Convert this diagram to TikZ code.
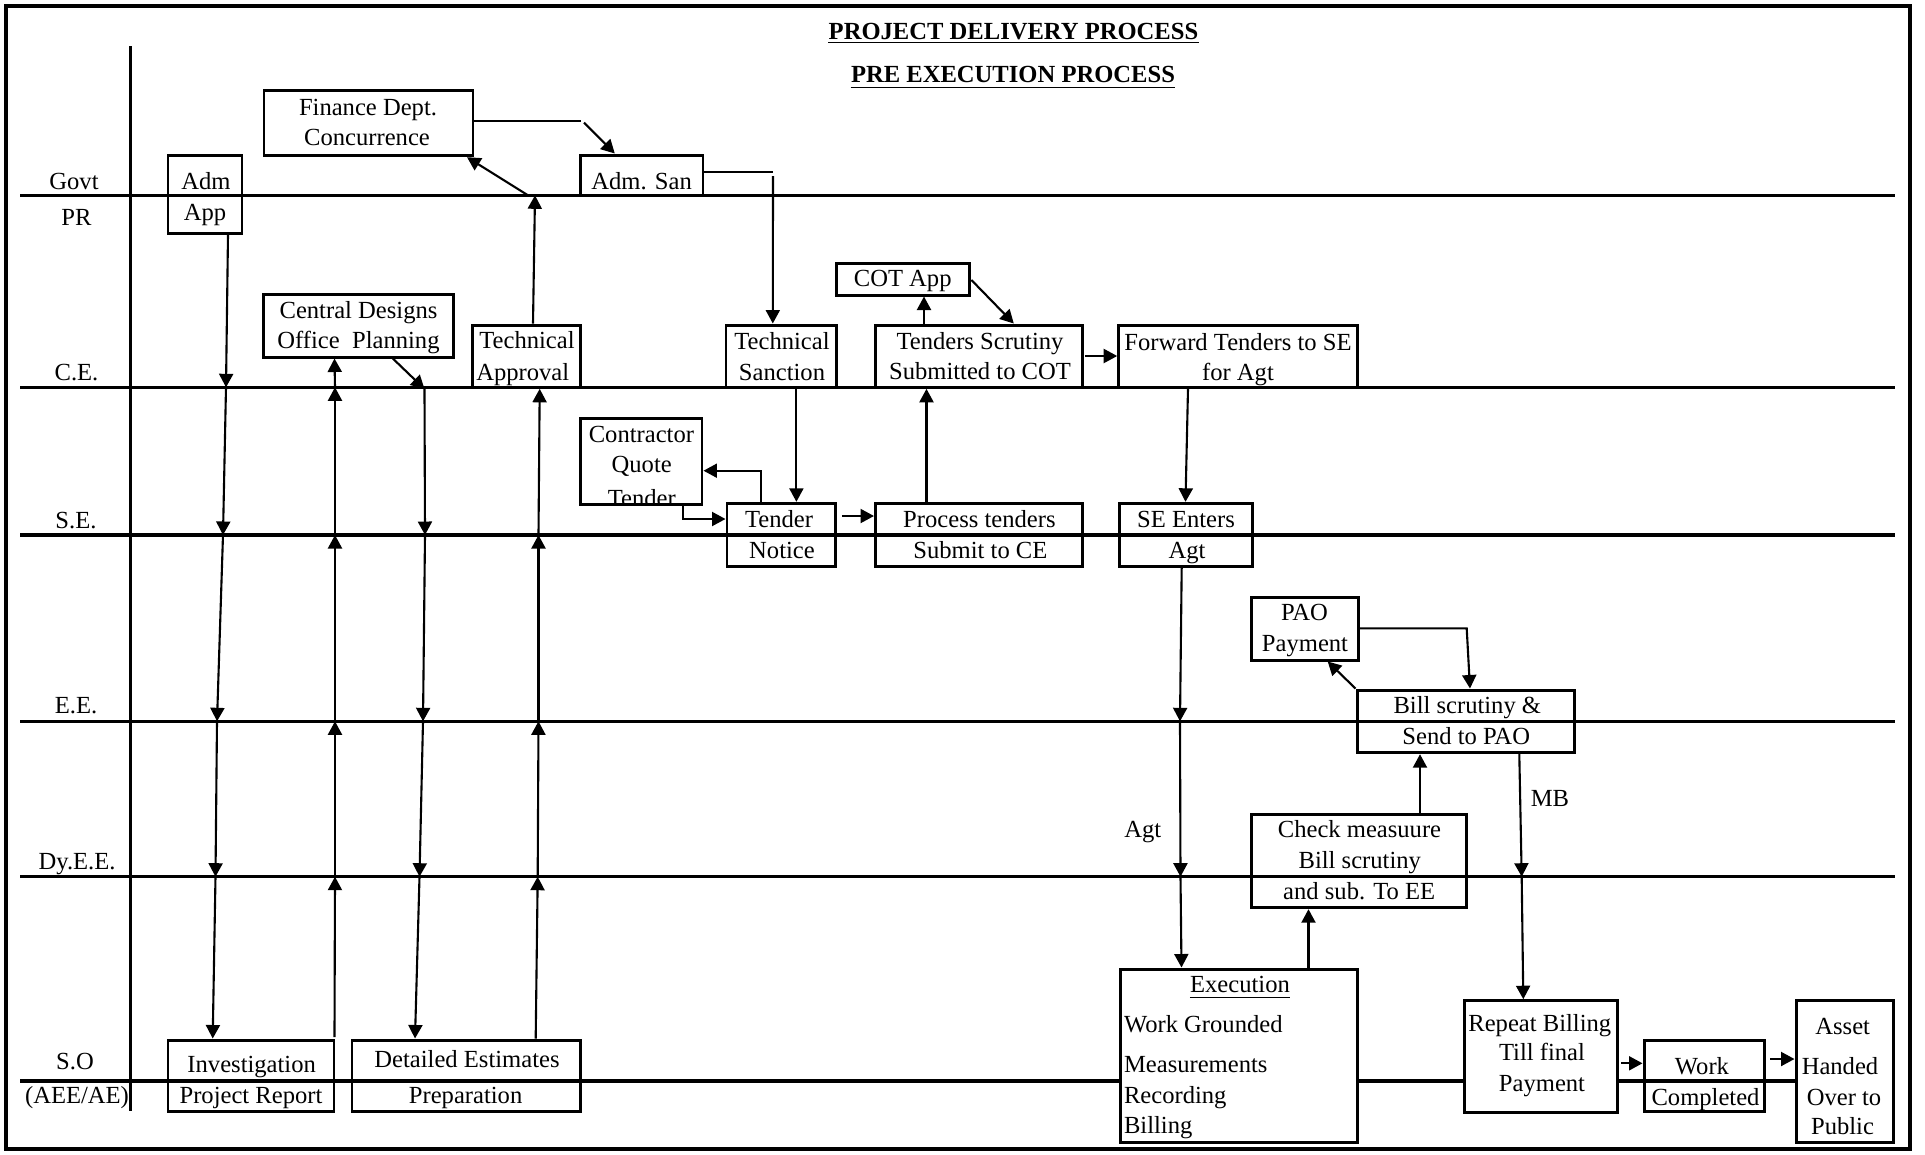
\documentclass[tikz,border=0pt]{standalone}
\usepackage{fontspec}
\setmainfont{Liberation Serif}
\usetikzlibrary{arrows.meta,fit}
\newcommand\fs{\fontsize{14pt}{17pt}\selectfont}
\newcommand\tline[3]{\node[txt] (#1) at (#2) {#3};}
\newcommand\tlinel[3]{\node[txt,anchor=base west] (#1) at (#2) {#3};}
\begin{document}
\begin{tikzpicture}[x=0.02cm,y=-0.02cm,
  lane/.style={line width=1.75pt},
  box/.style={draw,line width=1.7pt,inner sep=0pt,rectangle},
  wbox/.style={box,fill=white},
  txt/.style={inner sep=0pt,font=\fs,anchor=base},
  ttl/.style={inner sep=0pt,font=\fs\bfseries,anchor=base},
  arr/.style={line width=1.2pt,-{Triangle[length=0.27cm,width=0.28cm]}},
  con/.style={line width=1.2pt},
  ul/.style={line width=0.9pt}]
\fill[white] (0,0) rectangle (1925,1154);
\useasboundingbox (0,0) rectangle (1925,1154);
\draw[line width=2pt] (6,6) rectangle (1910,1149);

% titles
\node[ttl] (title1) at (1013.5,39.3) {PROJECT DELIVERY PROCESS};
\node[ttl] (title2) at (1013,82.7) {PRE EXECUTION PROCESS};
\draw[ul] ([yshift=-0.068cm]title1.base west) -- ([yshift=-0.068cm]title1.base east);
\draw[ul] ([yshift=-0.092cm]title2.base west) -- ([yshift=-0.092cm]title2.base east);

% lanes
\draw[lane] (130.6,46) -- (130.6,1110.7);
\foreach \yy in {195.3,387.3,535,721.3,876.7} \draw[lane] (20.4,\yy) -- (1895,\yy);
\draw[lane] (20.4,1081) -- (1890,1081);

% lane labels
\tline{lgovt}{74,189.3}{Govt}
\tline{lpr}{76.5,225}{PR}
\tline{lce}{76.5,380}{C.E.}
\tline{lse}{76,528.3}{S.E.}
\tline{lee}{76,713.3}{E.E.}
\tline{ldyee}{77,869.3}{Dy.E.E.}
\tline{lso}{75,1069.3}{S.O}
\tline{laee}{77,1103.3}{(AEE/AE)}

% boxes
\node[box,fit={(168,155) (242,233)}] (admapp) {};
\node[box,fit={(264,90) (473,155.7)}] (finance) {};
\node[box,fit={(580.6,155) (703,195.3)}] (admsan) {};
\node[box,fit={(263.8,294) (453.6,357)}] (cdo) {};
\node[box,fit={(472.4,325) (580.6,387.3)}] (techapp) {};
\node[box,fit={(726,325) (836,387.3)}] (techsan) {};
\node[box,fit={(836,263.3) (969,295)}] (cotapp) {};
\node[box,fit={(875,325) (1082.6,387.3)}] (tscrut) {};
\node[box,fit={(1118.7,325) (1357.6,387.3)}] (forward) {};
\node[box,fit={(580.6,418.3) (702,504)}] (contractor) {};
\node[box,fit={(727,503.3) (835.7,566)}] (tnotice) {};
\node[box,fit={(875.5,503.3) (1082,566)}] (process) {};
\node[box,fit={(1119,503.3) (1252,566)}] (seenters) {};
\node[box,fit={(1251,597.3) (1358.3,660)}] (pao) {};
\node[box,fit={(1357,690) (1574.3,752.7)}] (bill) {};
\node[box,fit={(1251,814.3) (1466,907.7)}] (check) {};
\node[wbox,fit={(1120,969) (1357.8,1142.3)}] (execution) {};
\node[wbox,fit={(1464.3,1000.7) (1617.3,1112.3)}] (repeat) {};
\node[box,fit={(1644,1040) (1764,1111.5)}] (work) {};
\node[wbox,fit={(1796,1000) (1893,1142)}] (asset) {};
\node[box,fit={(168,1040) (334,1111.7)}] (invest) {};
\node[box,fit={(352,1040) (580.4,1111.7)}] (detailed) {};

% box texts
\tline{aaA}{206,189.3}{Adm}
\tline{aaB}{205,220}{App}
\tline{fiA}{368,115}{Finance Dept.}
\tline{fiB}{367,145}{Concurrence}
\tline{asA}{641.6,189.3}{Adm. San}
\tline{cdA}{358.5,318.3}{Central Designs}
\tline{cdB}{358.5,348.3}{Office\ \ Planning}
\tline{taA}{527,348.3}{Technical}
\tline{taB}{522.7,380}{Approval}
\tline{tsA}{782,349.3}{Technical}
\tline{tsB}{782,380}{Sanction}
\tline{coA}{902.7,286.7}{COT App}
\tline{scA}{980,349.3}{Tenders Scrutiny}
\tline{scB}{980,379.3}{Submitted to COT}
\tline{fwA}{1238,350}{Forward Tenders to SE}
\tline{fwB}{1238,380}{for Agt}
\begin{scope}
\clip (contractor.south west) rectangle (contractor.north east);
\tline{ctA}{641.4,442.7}{Contractor}
\tline{ctB}{641.7,472.7}{Quote}
\tline{ctC}{641.8,506}{Tender}
\end{scope}
\tline{tnA}{779,527.7}{Tender}
\tline{tnB}{782,558.3}{Notice}
\tline{prA}{979.4,527.7}{Process tenders}
\tline{prB}{980.4,558.3}{Submit to CE}
\tline{seA}{1186,527.7}{SE Enters}
\tline{seB}{1187,558.3}{Agt}
\tline{paA}{1304.5,620.7}{PAO}
\tline{paB}{1305,651.7}{Payment}
\tline{biA}{1467.3,713.3}{Bill scrutiny \&}
\tline{biB}{1466.2,744.3}{Send to PAO}
\tline{chA}{1359.5,837.3}{Check measuure}
\tline{chB}{1359.8,868.3}{Bill scrutiny}
\tline{chC}{1359.2,899.3}{and sub. To EE}
\tline{exA}{1240,992.7}{Execution}
\draw[line width=0.6pt] ([yshift=-0.09cm]exA.base west) -- ([yshift=-0.09cm]exA.base east);
\tlinel{exB}{1123.7,1032.3}{Work Grounded}
\tlinel{exC}{1123.7,1072.7}{Measurements}
\tlinel{exD}{1123.7,1103.3}{Recording}
\tlinel{exE}{1123.7,1133.3}{Billing}
\tline{rpA}{1539.8,1031.7}{Repeat Billing}
\tline{rpB}{1542,1060}{Till final}
\tline{rpC}{1542,1091.7}{Payment}
\tline{wkA}{1702,1074.3}{Work}
\tline{wkB}{1705.5,1105}{Completed}
\tline{atA}{1842.7,1034}{Asset}
\tline{atB}{1840,1074.3}{Handed}
\tline{atC}{1844,1105}{Over to}
\tline{atD}{1842.5,1134}{Public}
\tline{ivA}{251.7,1072.7}{Investigation}
\tline{ivB}{251,1103.3}{Project Report}
\tline{deA}{467,1067.3}{Detailed Estimates}
\tline{deB}{465.6,1103.3}{Preparation}
\tline{lagt}{1142.7,837.3}{Agt}
\tline{lmb}{1550,806.7}{MB}

% connectors
\coordinate (A1) at (226,387.3);
\coordinate (A2) at (223,535);
\coordinate (A3) at (217,721.3);
\coordinate (A4) at (215.5,876.7);
\draw[arr] (228,0 |- admapp.south) -- (A1);
\draw[arr] (A1) -- (A2);
\draw[arr] (A2) -- (A3);
\draw[arr] (A3) -- (A4);
\draw[arr] (A4) -- (212.7,0 |- invest.north);

\coordinate (B0) at (334.5,1037);
\coordinate (B1) at (335,876.7);
\coordinate (B2) at (335,721.3);
\coordinate (B3) at (335,535);
\coordinate (B4) at (335,387.3);
\draw[arr] (B0) -- (B1);
\draw[arr] (B1) -- (B2);
\draw[arr] (B2) -- (B3);
\draw[arr] (B3) -- (B4);
\draw[arr] (B4) -- (334.5,0 |- cdo.south);

\coordinate (C0) at (424.5,389);
\coordinate (C1) at (425,535);
\coordinate (C2) at (423,721.3);
\coordinate (C3) at (419.5,876.7);
\draw[arr] (392.8,0 |- cdo.south) -- (C0);
\draw[arr] (C0) -- (C1);
\draw[arr] (C1) -- (C2);
\draw[arr] (C2) -- (C3);
\draw[arr] (C3) -- (415,0 |- detailed.north);

\coordinate (D1) at (537.7,876.7);
\coordinate (D2) at (538.5,721.3);
\coordinate (D3) at (538.5,535);
\draw[arr] (535.7,0 |- detailed.north) -- (D1);
\draw[arr] (D1) -- (D2);
\draw[arr] (D2) -- (D3);
\draw[arr] (D3) -- (539.7,0 |- techapp.south);

\coordinate (E1) at (535,195.3);
\coordinate (E2) at (528,195.3);
\draw[arr] (533,0 |- techapp.north) -- (E1);
\draw[arr] (E2) -- (467,0 |- finance.south);

\coordinate (F1) at (580.6,121);
\coordinate (F2) at (584,122.7);
\draw[con] (finance.east |- F1) -- (F1);
\draw[arr] (F2) -- (614.8,0 |- admsan.north);

\coordinate (G1) at (773,171.7);
\coordinate (G2) at (773,176);
\draw[con] (admsan.east |- G1) -- (G1);
\draw[arr] (G2) -- (772.8,0 |- techsan.north);

\draw[arr] (796.4,0 |- techsan.south) -- (796.4,0 |- tnotice.north);

\coordinate (I1) at (760.7,470.7);
\draw[arr] (760.7,0 |- tnotice.north) -- (I1) -- (contractor.east |- I1);

\coordinate (J1) at (682.7,519);
\draw[arr] (682.7,0 |- contractor.south) -- (J1) -- (tnotice.west |- J1);

\coordinate (K0) at (841.8,516);
\draw[arr] (K0) -- (process.west |- K0);

\draw[arr] (926.5,0 |- process.north) -- (926.5,0 |- tscrut.south);
\draw[arr] (924,0 |- tscrut.north) -- (924,0 |- cotapp.south);

\coordinate (N0) at (971.4,280);
\draw[arr] (N0) -- (1013.8,0 |- tscrut.north);

\coordinate (O0) at (1084.8,356);
\draw[arr] (O0) -- (forward.west |- O0);

\draw[arr] (1188,0 |- forward.south) -- (1185.5,0 |- seenters.north);

\coordinate (Q1) at (1180,721.3);
\coordinate (Q2) at (1180.5,876.7);
\draw[arr] (1181.7,0 |- seenters.south) -- (Q1);
\draw[arr] (Q1) -- (Q2);
\draw[arr] (Q2) -- (1181.5,0 |- execution.north);

\draw[arr] (1308.5,0 |- execution.north) -- (1308.5,0 |- check.south);
\draw[arr] (1420,0 |- check.north) -- (1420,0 |- bill.south);
\draw[arr] (bill.north west) -- (1327.7,0 |- pao.south);

\coordinate (U1) at (1466.7,628.3);
\draw[arr] (pao.east |- U1) -- (U1) -- (1470,0 |- bill.north);

\coordinate (V1) at (1521.7,876.7);
\draw[arr] (1519.3,0 |- bill.south) -- (V1);
\draw[arr] (V1) -- (1523.3,0 |- repeat.north);

\coordinate (W0) at (1621,1063.3);
\draw[arr] (W0) -- (work.west |- W0);
\coordinate (X0) at (1770,1059);
\draw[arr] (X0) -- (asset.west |- X0);
\end{tikzpicture}
\end{document}
